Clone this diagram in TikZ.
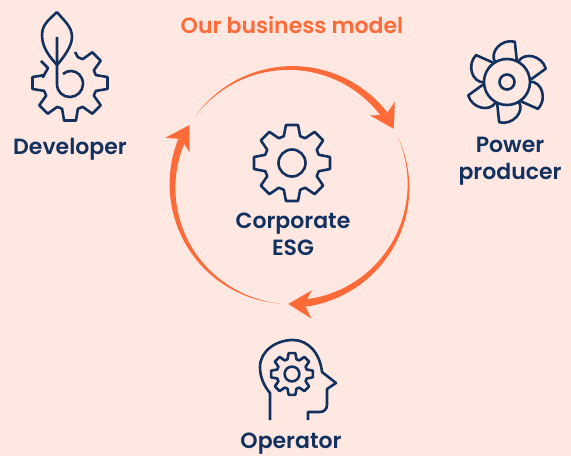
\documentclass[tikz,border=0pt]{standalone}
\usepackage{fontspec}
\newfontfamily\captionfont{Poppins SemiBold}
\usetikzlibrary{arrows.meta, positioning}
\definecolor{navyline}{HTML}{12315F}
\definecolor{ringorange}{HTML}{FF6B38}
\definecolor{pagepink}{HTML}{FFE8E2}
\tikzset{
    icon/.style={draw=navyline, line width=2.6pt, line join=round, fill=none},
    caption/.style={text=navyline, font=\fontsize{22}{27.5}\captionfont, align=center, inner sep=0pt},
    ringfill/.style={fill=ringorange, draw=none},
    ringtip/.style={draw=ringorange, line width=0.1pt, -{Stealth[length=23pt, width=28pt, inset=7pt]}},
    gear/.pic={
        \draw[icon] (-17:28) foreach \a in {0,45,...,315} {
            -- (\a-17:28) -- (\a-9:38.5) -- (\a+9:38.5) -- (\a+17:28)} -- cycle;
        \draw[icon] (0,0) circle (13.5);
    },
    blade/.pic={
        \draw[icon] (121:23) .. controls (121:35) and (97:44) .. (79:41) -- (66:24);
    }
}
\begin{document}
\begin{tikzpicture}[x=1pt, y=1pt]
    \fill[pagepink] (0,0) rectangle (571,456);
    \useasboundingbox (0,0) rectangle (571,456);

    \node (title) at (292,431) [text=ringorange, font=\fontsize{22}{27.5}\captionfont, inner sep=0pt] {Our business model};

    % ring of three tapered arrows
    \foreach \s/\e in {144/29, 24.6/-91, -95/-211} {
        \fill[ringfill, shift={(290.5,270)}]
            plot[domain=\s:\e+8, samples=40] (\x:{118+3.7*(\s-\x)/(\s-\e-8)})
            -- plot[domain=\e+8:\s, samples=40] (\x:{118-3.7*(\s-\x)/(\s-\e-8)}) -- cycle;
        \draw[ringtip, shift={(290.5,270)}] (\e+12:118) arc[start angle=\e+12, end angle=\e, radius=118];
    }

    % centre
    \pic at (292,293) {gear};
    \node (esg) at (293,221.5) [caption] {Corporate\\ESG};

    % developer
    \draw[icon] (57,444) .. controls (50,437) and (42,432) .. (42,421)
        .. controls (42,408) and (50,399) .. (57,391)
        .. controls (64,399) and (72,410) .. (72,419)
        .. controls (72,430) and (63,436) .. (57,444);
    \draw[icon] (57,419) -- (57,372) .. controls (57,364) and (63,359) .. (70,359)
        .. controls (77,359) and (83,365) .. (83,372)
        .. controls (83,380) and (77,385) .. (71,385)
        .. controls (68,385) and (65,384) .. (63,382);
    \draw[icon, shift={(70,373)}] (75-70,404-373) -- (73:27) foreach \a in {45,0,...,-180} {
        -- (\a+17:27) -- (\a+9:38) -- (\a-9:38) -- (\a-17:27)} -- (43-70,379-373) -- (48-70,388-373) -- (41-70,395-373);
    \node (developer) at (70,307) [caption] {Developer};

    % power producer
    \draw[icon] (507,374) circle (23);
    \draw[icon] (507,374) circle (7.5);
    \foreach \r in {0,60,...,300} {
        \pic[rotate=\r] at (507,374) {blade};
    }
    \node (producer) at (510,295) [caption] {Power\\producer};

    % operator
    \draw[icon] (270,36) -- (270,63) .. controls (264,70) and (260,79) .. (260,89)
        .. controls (260,105) and (276,116) .. (293,116)
        .. controls (308,116) and (320,103) .. (322,84)
        -- (336,73) -- (327,67) -- (327,51) .. controls (327,47) and (324,44) .. (320,44)
        -- (308,44) -- (308,36);
    \pic[scale=0.55] at (292,82) {gear};
    \node (operator) at (291,12) [caption] {Operator};
\end{tikzpicture}
\end{document}
